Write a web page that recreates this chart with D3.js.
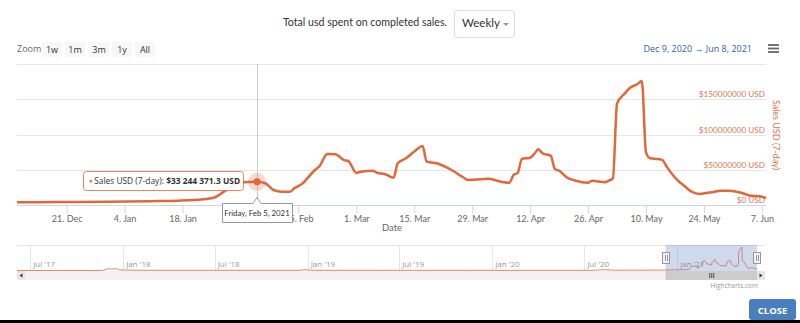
<!DOCTYPE html>
<html><head><meta charset="utf-8">
<script src="https://cdn.jsdelivr.net/npm/d3@7"></script>
<style>
html,body{margin:0;padding:0;background:#fff;}
svg{display:block;font-family:"Open Sans","Noto Sans",sans-serif;}
</style></head>
<body><svg id="c" width="800" height="323"></svg>
<script>
// ---- data ----
const salesDates = ["2020-12-09","2020-12-19","2020-12-31","2021-01-10","2021-01-17","2021-01-23","2021-01-26","2021-01-28","2021-01-30","2021-02-01","2021-02-03","2021-02-05","2021-02-07","2021-02-09","2021-02-11","2021-02-13","2021-02-14","2021-02-16","2021-02-19","2021-02-20","2021-02-22","2021-02-24","2021-02-26","2021-02-27","2021-03-01","2021-03-02","2021-03-05","2021-03-06","2021-03-08","2021-03-10","2021-03-11","2021-03-13","2021-03-15","2021-03-17","2021-03-18","2021-03-21","2021-03-24","2021-03-27","2021-03-28","2021-03-31","2021-04-02","2021-04-04","2021-04-07","2021-04-08","2021-04-09","2021-04-10","2021-04-12","2021-04-13","2021-04-14","2021-04-15","2021-04-17","2021-04-18","2021-04-19","2021-04-21","2021-04-23","2021-04-26","2021-04-27","2021-04-30","2021-05-01","2021-05-02","2021-05-03","2021-05-04","2021-05-05","2021-05-06","2021-05-08","2021-05-09","2021-05-10","2021-05-11","2021-05-13","2021-05-14","2021-05-15","2021-05-18","2021-05-19","2021-05-21","2021-05-23","2021-05-25","2021-05-26","2021-05-28","2021-05-30","2021-06-02","2021-06-04","2021-06-07","2021-06-08"];
const salesUSD = [4.2e6,4.5e6,5.1e6,5.8e6,6.5e6,8.5e6,11.8e6,19.3e6,27e6,32e6,33e6,33244371.3,31.2e6,21.7e6,19.3e6,19.3e6,24e6,31e6,50e6,54.7e6,72.7e6,72.2e6,64e6,63e6,46e6,47.6e6,49e6,46e6,44e6,39e6,59.5e6,66.6e6,76e6,84e6,62e6,58.5e6,50e6,39e6,35.8e6,36.8e6,37.7e6,34.8e6,32e6,43e6,46e6,65.6e6,67.4e6,72.7e6,79.3e6,73.7e6,70e6,51e6,49e6,39e6,34.8e6,32e6,34.8e6,32.6e6,34.8e6,38e6,144e6,153e6,159e6,165.7e6,171.8e6,176e6,75e6,66.6e6,65.5e6,64e6,54.7e6,33.4e6,28.8e6,19.3e6,16e6,17.8e6,18.4e6,20.7e6,20.7e6,17.8e6,14e6,12.2e6,10e6];
const historyDates = ["2017-06-05","2017-11-20","2017-11-28","2017-12-05","2017-12-10","2017-12-16","2017-12-25","2018-01-05","2018-02-15","2018-06-01","2018-12-15","2018-12-28","2019-01-08","2019-08-01","2020-01-01","2020-07-15","2020-08-10","2020-09-01","2020-12-08"];
const historyUSD = [0.2e6,0.5e6,8e6,14e6,10e6,15e6,6e6,3e6,1.5e6,1.5e6,1.5e6,6e6,1.5e6,1.2e6,1e6,1e6,6e6,2e6,3e6];
const yTicks = [0,50e6,100e6,150e6,200e6];
const zoomButtons = ["1w","1m","3m","1y","All"];
const titleText = "Total usd spent on completed sales.";
const periodText = "Weekly";
const rangeText = "Dec 9, 2020  \u2192  Jun 8, 2021";
const seriesName = "Sales USD (7-day)";
const hoverDate = "2021-02-05";

// ---- setup ----
const parse = d3.utcParse("%Y-%m-%d");
const sales = salesDates.map((d,i)=>({date:parse(d),v:salesUSD[i]}));
const nav = historyDates.map((d,i)=>({date:parse(d),v:historyUSD[i]})).concat(sales);
const orange = "#e0683a";
const lato = "Lato,\"Open Sans\",sans-serif";
const svg = d3.select("#c");
svg.append("rect").attr("width",800).attr("height",323).attr("fill","#fff");

const x = d3.scaleUtc().domain([parse("2020-12-09"),parse("2021-06-08")]).range([17,766]);
const y = d3.scaleLinear().domain([0,200e6]).range([205.3,64]);

// title + dropdown
svg.append("text").attr("x",447).attr("y",26).attr("text-anchor","end").attr("font-family",lato)
  .attr("font-size",10.6).attr("fill","#333").text(titleText);
svg.append("rect").attr("x",454.5).attr("y",10.5).attr("width",60).attr("height",27).attr("rx",3)
  .attr("fill","#fff").attr("stroke","#ddd");
svg.append("text").attr("x",462).attr("y",27).attr("font-family",lato).attr("font-size",11.5).attr("fill","#333").text(periodText);
svg.append("path").attr("d","M503,23 L509,23 L506,26 Z").attr("fill","#999");

// range selector
svg.append("text").attr("x",17).attr("y",52).attr("font-size",9).attr("fill","#666").text("Zoom");
const bx = [42,65,89,112,135];
zoomButtons.forEach((b,i)=>{
  svg.append("rect").attr("x",bx[i]).attr("y",42).attr("width",20).attr("height",15).attr("fill","#f7f7f7");
  svg.append("text").attr("x",bx[i]+10).attr("y",52.5).attr("text-anchor","middle").attr("font-size",9).attr("fill","#333").text(b);
});
svg.append("text").attr("x",752).attr("y",52).attr("text-anchor","end").attr("font-size",9).attr("fill","#335cad").text(rangeText);
[45,48.5,52].forEach(yy=>svg.append("line").attr("x1",768).attr("x2",779).attr("y1",yy).attr("y2",yy).attr("stroke","#666").attr("stroke-width",1.8));

// gridlines
svg.append("g").selectAll("line").data(yTicks.filter(d=>d>0)).join("line")
  .attr("x1",17).attr("x2",766).attr("y1",d=>Math.round(y(d))+0.5).attr("y2",d=>Math.round(y(d))+0.5)
  .attr("stroke","#e6e6e6");

// y labels
svg.append("g").selectAll("text").data(yTicks.filter(d=>d<200e6)).join("text")
  .attr("x",765).attr("y",d=>y(d)-2).attr("text-anchor","end").attr("font-family",lato).attr("font-size",8.2).attr("fill","#d9784f")
  .text(d=>"$"+d3.format("d")(d)+" USD");
svg.append("text").attr("transform","translate(773,135) rotate(90)").attr("text-anchor","middle")
  .attr("font-family",lato).attr("font-size",9).attr("fill","#d9784f").text(seriesName);

// x axis
const xTicks = d3.utcDay.range(parse("2020-12-21"),parse("2021-06-09"),14);
svg.append("line").attr("x1",17).attr("x2",766).attr("y1",205.5).attr("y2",205.5).attr("stroke","#ccd6eb");
const xg = svg.append("g").attr("transform","translate(0,205.5)")
  .call(d3.axisBottom(x).tickValues(xTicks).tickFormat(d3.utcFormat("%-d. %b")).tickSize(8).tickPadding(2));
xg.select(".domain").remove();
xg.selectAll(".tick line").attr("stroke","#ccd6eb");
xg.selectAll(".tick text").attr("fill","#666").attr("font-size",9).attr("font-family",lato);
svg.append("text").attr("x",392).attr("y",231).attr("text-anchor","middle").attr("font-family",lato).attr("font-size",9.5).attr("fill","#666").text("Date");

// crosshair
const hd = sales.find(d=>+d.date===+parse(hoverDate));
svg.append("line").attr("x1",Math.round(x(hd.date))+0.5).attr("x2",Math.round(x(hd.date))+0.5)
  .attr("y1",64).attr("y2",205).attr("stroke","#cccccc");

// series line
const line = d3.line().x(d=>x(d.date)).y(d=>y(d.v)).curve(d3.curveMonotoneX);
svg.append("path").datum(sales).attr("d",line).attr("fill","none").attr("stroke",orange)
  .attr("stroke-width",2.5).attr("stroke-linejoin","round");

// marker
svg.append("circle").attr("cx",x(hd.date)).attr("cy",y(hd.v)).attr("r",9).attr("fill",orange).attr("opacity",0.25);
svg.append("circle").attr("cx",x(hd.date)).attr("cy",y(hd.v)).attr("r",3.5).attr("fill",orange);

// tooltip
svg.append("rect").attr("x",83.5).attr("y",171.5).attr("width",160).attr("height",19).attr("rx",3)
  .attr("fill","#fff").attr("fill-opacity",0.92).attr("stroke",orange).attr("stroke-opacity",0.8);
const tt = svg.append("text").attr("x",89).attr("y",184.2).attr("font-size",8.4).attr("fill","#333");
tt.append("tspan").attr("fill",orange).attr("font-size",6).attr("dy",-1).text("\u25CF ");
tt.append("tspan").attr("dy",1).text(seriesName+": ");
tt.append("tspan").attr("font-weight","bold").text("$"+d3.format(",.1f")(hd.v).replace(/,/g," ")+" USD");

// date tooltip
const hx = Math.round(x(hd.date));
svg.append("path").attr("d",`M222.5,203.5 H${hx-4} L${hx},197.5 L${hx+4},203.5 H292.5 V222.5 H222.5 Z`)
  .attr("fill","#fff").attr("stroke","#999");
svg.append("text").attr("x",hx).attr("y",216).attr("text-anchor","middle").attr("font-family",lato).attr("font-size",7.8).attr("fill","#333")
  .text(d3.utcFormat("%A, %b %-d, %Y")(hd.date));

// navigator
const nx = d3.scaleUtc().domain([parse("2017-06-05"),parse("2021-06-08")]).range([17,757]);
const ny = d3.scaleLinear().domain([0,176e6]).range([270.5,247]);
const navTicks = d3.utcMonth.every(6).range(parse("2017-07-01"),parse("2021-06-08"));
svg.append("line").attr("x1",17).attr("x2",765).attr("y1",245.5).attr("y2",245.5).attr("stroke","#e6e6e6");
svg.append("g").selectAll("line").data(navTicks).join("line")
  .attr("x1",d=>Math.round(nx(d))+0.5).attr("x2",d=>Math.round(nx(d))+0.5).attr("y1",245).attr("y2",271).attr("stroke","#e6e6e6");
svg.append("g").selectAll("text").data(navTicks).join("text")
  .attr("x",d=>nx(d)+3).attr("y",267).attr("font-size",8).attr("fill","#999")
  .text(d=>d3.utcFormat("%b '%y")(d));
svg.append("path").datum(nav).attr("d",d3.line().x(d=>nx(d.date)).y(d=>ny(d.v)).curve(d3.curveMonotoneX))
  .attr("fill","none").attr("stroke",orange).attr("stroke-width",1).attr("opacity",0.8);
// mask
const m0 = nx(parse("2020-12-09")), m1 = nx(parse("2021-06-08"));
svg.append("rect").attr("x",m0).attr("y",245).attr("width",m1-m0).attr("height",26).attr("fill","rgba(102,133,194,0.3)");
// scrollbar
svg.append("rect").attr("x",17).attr("y",271).attr("width",748).attr("height",9).attr("fill","#f2f2f2");
svg.append("rect").attr("x",m0).attr("y",271).attr("width",m1-m0).attr("height",9).attr("fill","#cccccc");
svg.append("rect").attr("x",17).attr("y",271).attr("width",8).attr("height",9).attr("fill","#e6e6e6");
svg.append("rect").attr("x",757).attr("y",271).attr("width",8).attr("height",9).attr("fill","#e6e6e6");
svg.append("path").attr("d","M22.5,273.5 L19.5,275.5 L22.5,277.5 Z").attr("fill","#333");
svg.append("path").attr("d","M759.5,273.5 L762.5,275.5 L759.5,277.5 Z").attr("fill","#333");
[-2,0,2].forEach(o=>svg.append("line").attr("x1",(m0+m1)/2+o+0.5).attr("x2",(m0+m1)/2+o+0.5).attr("y1",273).attr("y2",278).attr("stroke","#333").attr("stroke-width",0.8));
// handles
[m0,m1].forEach(hxp=>{
  svg.append("rect").attr("x",Math.round(hxp)-3.5).attr("y",252.5).attr("width",7).attr("height",11).attr("fill","#f2f2f2").attr("stroke","#999");
  [-1,1].forEach(o=>svg.append("line").attr("x1",Math.round(hxp)+o+0.5).attr("x2",Math.round(hxp)+o+0.5).attr("y1",255).attr("y2",261).attr("stroke","#999"));
});
svg.append("text").attr("x",758).attr("y",288).attr("text-anchor","end").attr("font-size",6.5).attr("fill","#999").text("Highcharts.com");

// close button
svg.append("rect").attr("x",749).attr("y",299).attr("width",47).attr("height",21).attr("rx",3).attr("fill","#4a7fbf");
svg.append("text").attr("x",772.5).attr("y",313.5).attr("text-anchor","middle").attr("font-size",9.5).attr("font-weight","bold").attr("fill","#fff").text("CLOSE");
svg.append("rect").attr("x",0).attr("y",320).attr("width",800).attr("height",3).attr("fill","#000");
</script></body></html>
